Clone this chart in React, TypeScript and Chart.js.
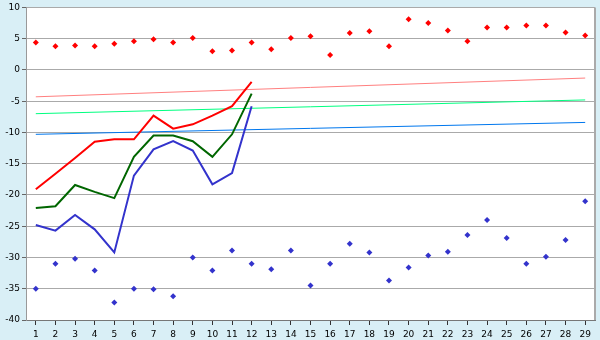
import React, { useEffect, useRef } from 'react';
import { Chart, registerables } from 'chart.js';

Chart.register(...registerables);

const categories = ['1','2','3','4','5','6','7','8','9','10','11','12','13','14','15','16','17','18','19','20','21','22','23','24','25','26','27','28','29'];
const redPoints = [4.4, 3.8, 3.9, 3.8, 4.2, 4.6, 4.9, 4.4, 5.1, 3.0, 3.1, 4.4, 3.3, 5.1, 5.4, 2.4, 5.9, 6.2, 3.8, 8.1, 7.5, 6.3, 4.6, 6.8, 6.8, 7.1, 7.1, 6.0, 5.5];
const bluePoints = [-35, -31, -30.2, -32.1, -37.2, -35, -35.1, -36.2, -30, -32.1, -28.9, -31, -31.9, -28.9, -34.5, -31, -27.8, -29.2, -33.7, -31.6, -29.7, -29.1, -26.4, -24, -26.9, -31, -29.9, -27.2, -21];
const redLine = [-19.1, -16.6, -14.1, -11.5, -11.1, -11.1, -7.3, -9.4, -8.7, -7.3, -5.8, -1.9];
const greenLine = [-22.1, -21.8, -18.4, -19.5, -20.5, -13.9, -10.5, -10.5, -11.4, -13.9, -10.3, -3.8];
const blueLine = [-24.8, -25.7, -23.2, -25.5, -29.2, -16.9, -12.7, -11.4, -12.9, -18.3, -16.5, -5.8];
const redTrend = [-4.3, -1.3];
const greenTrend = [-7.0, -4.8];
const blueTrend = [-10.3, -8.4];
const yMin = -40;
const yMax = 10;
const yStep = 5;

function trendData(t: number[]) {
  const n = categories.length;
  return categories.map((_, i) => (i === 0 ? t[0] : i === n - 1 ? t[1] : null));
}

const bgPlugin = {
  id: 'bgPlugin',
  beforeDraw(chart: any) {
    const { ctx, chartArea: a } = chart;
    ctx.save();
    ctx.fillStyle = '#d9eff6';
    ctx.fillRect(0, 0, chart.width, chart.height);
    ctx.fillStyle = '#ffffff';
    ctx.fillRect(a.left, a.top, a.right - a.left, a.bottom - a.top);
    ctx.restore();
  },
  beforeDatasetsDraw(chart: any) {
    const { ctx, chartArea: a } = chart;
    ctx.save();
    ctx.strokeStyle = '#aaaaaa';
    ctx.lineWidth = 2;
    ctx.beginPath();
    ctx.moveTo(a.right, a.top);
    ctx.lineTo(a.right, a.bottom);
    ctx.stroke();
    ctx.restore();
  },
};

export default function App() {
  const ref = useRef<HTMLCanvasElement | null>(null);
  useEffect(() => {
    if (!ref.current) return;
    Chart.defaults.font.family = 'DejaVu Sans';
    Chart.defaults.font.size = 9;
    Chart.defaults.color = '#000';
    const chart = new Chart(ref.current, {
      type: 'line',
      data: {
        labels: categories,
        datasets: [
          { data: redLine, borderColor: '#ff0000', borderWidth: 2, pointRadius: 0, tension: 0 },
          { data: greenLine, borderColor: '#006600', borderWidth: 2, pointRadius: 0, tension: 0 },
          { data: blueLine, borderColor: '#3333cc', borderWidth: 2, pointRadius: 0, tension: 0 },
          { data: trendData(redTrend), borderColor: '#ff8080', borderWidth: 1, pointRadius: 0, spanGaps: true },
          { data: trendData(greenTrend), borderColor: '#00ff80', borderWidth: 1, pointRadius: 0, spanGaps: true },
          { data: trendData(blueTrend), borderColor: '#0077ee', borderWidth: 1, pointRadius: 0, spanGaps: true },
          { data: redPoints, showLine: false, pointStyle: 'rectRot', pointRadius: 3, backgroundColor: '#ff0000', borderColor: '#ff0000', borderWidth: 0 },
          { data: bluePoints, showLine: false, pointStyle: 'rectRot', pointRadius: 3, backgroundColor: '#3333cc', borderColor: '#3333cc', borderWidth: 0 },
        ] as any,
      },
      options: {
        responsive: false,
        animation: false,
        events: [],
        layout: { padding: { top: 5, right: 5, left: 0, bottom: 0 } },
        plugins: { legend: { display: false }, tooltip: { enabled: false } },
        scales: {
          x: {
            offset: true,
            grid: { display: true, drawOnChartArea: false, drawTicks: true, tickLength: 5, tickColor: '#333', offset: false },
            border: { color: '#777', width: 1 },
            ticks: { padding: 4, maxRotation: 0, autoSkip: false, color: '#000' },
            afterFit: (s: any) => { s.height = 20; },
          },
          y: {
            min: yMin,
            max: yMax,
            ticks: { stepSize: yStep, padding: 2, color: '#000' },
            grid: { color: '#aaaaaa', tickColor: '#666', tickLength: 4, lineWidth: 1 },
            border: { color: '#999', width: 1 },
            afterFit: (s: any) => { s.width = 26; },
          },
        },
      } as any,
      plugins: [bgPlugin],
    });
    return () => chart.destroy();
  }, []);
  return (
    <div style={{ position: 'absolute', left: 0, top: 0, width: 600, height: 340, background: '#d9eff6' }}>
      <canvas ref={ref} width={600} height={340} />
    </div>
  );
}
